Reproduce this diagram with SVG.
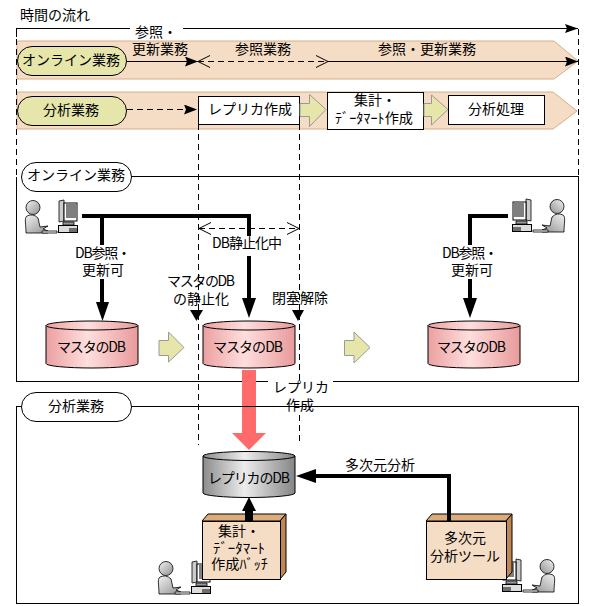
<svg xmlns="http://www.w3.org/2000/svg" xmlns:xlink="http://www.w3.org/1999/xlink" width="594" height="606" viewBox="0 0 594 606">
<style>
text{font-family:"Noto Sans CJK JP","Noto Sans CJK SC",sans-serif;font-size:14px;fill:#000}
.band{fill:#F5DCC4;stroke:#D8AE84;stroke-width:1}
.pill{fill:#E6E6AA;stroke:#000;stroke-width:1}
.wpill{fill:#fff;stroke:#000;stroke-width:1}
.box{fill:#fff;stroke:#000;stroke-width:1;shape-rendering:crispEdges}
.garrow{fill:#E6E6AA;stroke:#999;stroke-width:1}
.panel{fill:none;stroke:#000;stroke-width:1;shape-rendering:crispEdges}
.thin{fill:none;stroke:#000;stroke-width:1;shape-rendering:crispEdges}
.dash{fill:none;stroke:#000;stroke-width:1;stroke-dasharray:6 4;shape-rendering:crispEdges}
.thick{fill:none;stroke:#000;stroke-width:4;shape-rendering:crispEdges}
.cylline{fill:none;stroke:#000;stroke-width:1}
</style>
<defs>
<linearGradient id="pinkG" x1="0" x2="1" y1="0" y2="0"><stop offset="0" stop-color="#EBA0A0"/><stop offset="0.45" stop-color="#FFDEDE"/><stop offset="1" stop-color="#E89A9A"/></linearGradient>
<linearGradient id="grayG" x1="0" x2="1" y1="0" y2="0"><stop offset="0" stop-color="#8C8C8C"/><stop offset="0.45" stop-color="#EDEDED"/><stop offset="1" stop-color="#858585"/></linearGradient>
<linearGradient id="persG" x1="0" x2="1" y1="0" y2="1"><stop offset="0" stop-color="#F2F2F2"/><stop offset="1" stop-color="#909090"/></linearGradient>
<marker id="fa" markerUnits="userSpaceOnUse" markerWidth="14" markerHeight="10" refX="13" refY="5" orient="auto"><path d="M0 0L13 5L0 10L2 5Z" fill="#000"/></marker>
<marker id="oa" markerUnits="userSpaceOnUse" markerWidth="14" markerHeight="14" refX="12" refY="7" orient="auto"><path d="M0 1L12 7L0 13" fill="none" stroke="#000"/></marker>
<marker id="oas" markerUnits="userSpaceOnUse" markerWidth="14" markerHeight="14" refX="2" refY="7" orient="auto"><path d="M14 1L2 7L14 13" fill="none" stroke="#000"/></marker>
<g id="cyl">
<path d="M0 4.500A46 4.500 0 0 1 92 4.500V42.500A46 4.500 0 0 1 0 42.500Z" fill="url(#pinkG)" stroke="#000"/>
<path d="M0 4.500A46 4.500 0 0 0 92 4.500" class="cylline"/>
</g>
<g id="user">
<path d="M27 216C24 218 26 224 26 233H48V231L43 229L48 226L40 227L38 218Q33 213 27 216Z" fill="url(#persG)" stroke="#000" stroke-width="0.8"/>
<circle cx="33" cy="207.500" r="7" fill="url(#persG)" stroke="#000" stroke-width="0.8"/>
<path d="M42 231H57V233H42Z" fill="#fff" stroke="#000" stroke-width="0.8"/>
<path d="M59 201L64 200V221L59 222Z" fill="#ccc" stroke="#000" stroke-width="0.8"/>
<rect x="64" y="203" width="13" height="18" fill="#fff" stroke="#000" stroke-width="1"/>
<path d="M66 205H76M66 207H76M66 209H76M66 211H76M66 213H76M66 215H76M66 217H76" stroke="#000" stroke-width="1"/>
<path d="M63 222H74V225H63Z" fill="#999" stroke="#000" stroke-width="0.8"/>
<rect x="58.500" y="225.500" width="19" height="7" fill="#ddd" stroke="#000"/>
<path d="M70 228V232M72 228V232M74 228V232M76 228V232" stroke="#000"/>
</g>
</defs>

<g id="band-online"><path class="band" d="M17 41H554L578 61L554 79H17Z"/></g>
<g id="band-analysis"><path class="band" d="M17 92H553L577 111L553 129H17Z"/></g>

<g id="connectors">
<path class="thin" d="M16.500 37V28.500H129.500M183 28.500H577.500" />
<path d="M565 24L578 28.500L565 33L567 28.500Z" fill="#000"/>
<path class="dash" d="M16.500 39V177"/>
<path class="dash" d="M578.500 29V177"/>
<path class="dash" d="M198.500 124V445"/>
<path class="dash" d="M299.500 124V381"/>
<path class="dash" d="M299.500 415V445"/>
<path class="thin" d="M127 61.500H198" marker-end="url(#fa)"/>
<path class="dash" d="M198 61.500H328" marker-start="url(#oas)" marker-end="url(#oa)"/>
<path class="thin" d="M328 61.500H578" marker-end="url(#fa)"/>
<path class="dash" d="M127 109.500H197" marker-end="url(#fa)"/>
<path class="dash" d="M199 228.500H299" marker-start="url(#oas)" marker-end="url(#oa)"/>
<path class="thick" d="M82 216H249V236M249 256V300"/>
<path class="thick" d="M102 216V245M102 279V303"/>
<path class="thick" d="M508 216H470V245M470 279V300"/>
<path d="M96 302H109L102.500 321Z" fill="#000"/>
<path d="M242 298H256L249 318Z" fill="#000"/>
<path d="M463 298H477L470 318Z" fill="#000"/>
<path d="M190 310H203L196.500 321Z" fill="#000"/>
<path d="M292 310H304L298 321Z" fill="#000"/>
<path class="thick" d="M449 521V476H314"/>
<path d="M296 476L316 469V483Z" fill="#000"/>
<path d="M249 497L256 511H253V521H245V511H242Z" fill="#000"/>
<rect x="242" y="370" width="14" height="64" fill="#FF6B6B"/>
<path d="M232 433H266L249 450Z" fill="#FF6B6B"/>
</g>

<g id="panels">
<path class="panel" d="M131 176.500H578.500V381.500H333M268 381.500H256M242 381.500H16.500V177"/>
<path class="panel" d="M131 406.500H578.500V603.500H16.500V406.500H21M242 406.500H131M256 406.500H268M333 406.500H340"/>
</g>

<g id="time-label"><text x="20" y="20">時間の流れ</text></g>
<g id="label-upd1"><text x="135" y="37">参照・</text><text x="132" y="54">更新業務</text></g>
<g id="label-ref"><text x="235" y="54">参照業務</text></g>
<g id="label-upd2"><text x="378" y="54">参照・更新業務</text></g>

<g id="pill-online"><rect class="pill" x="17.500" y="46.500" width="109" height="29" rx="14.500"/><text x="22" y="65">オンライン業務</text></g>
<g id="pill-analysis"><rect class="pill" x="17.500" y="96.500" width="109" height="29" rx="14.500"/><text x="43" y="115">分析業務</text></g>

<g id="box-replica"><rect class="box" x="198.500" y="96.500" width="101" height="28"/><text x="208" y="114">レプリカ作成</text></g>
<g id="arrow-g1"><path class="garrow" d="M300 103.500H309.500V94.500L326 109.500L309.500 126.500V116.500H300Z"/></g>
<g id="box-mart"><rect class="box" x="327.500" y="92.500" width="96" height="37"/><text x="354" y="105">集計・</text><text x="335" y="123" textLength="78" lengthAdjust="spacingAndGlyphs">ﾃﾞｰﾀﾏｰﾄ作成</text></g>
<g id="arrow-g2"><path class="garrow" d="M424 103.500H431.500V95L448 109.500L431.500 125V116.500H424Z"/></g>
<g id="box-proc"><rect class="box" x="448.500" y="95.500" width="96" height="29"/><text x="468" y="114">分析処理</text></g>

<g id="pill-online2"><rect class="wpill" x="21.500" y="162.500" width="110" height="29" rx="14.500"/><text x="27" y="180">オンライン業務</text></g>
<g id="pill-analysis2"><rect class="wpill" x="21.500" y="392.500" width="110" height="29" rx="14.500"/><text x="48" y="411">分析業務</text></g>

<g id="user1"><use href="#user"/></g>
<g id="user2"><use href="#user" transform="translate(590,-1) scale(-1,1)"/></g>
<g id="user3"><use href="#user" transform="translate(133,361)"/></g>
<g id="user4"><use href="#user" transform="translate(580,359) scale(-1,1)"/></g>

<g id="db1"><use href="#cyl" x="46" y="321"/><text x="57" y="352" textLength="69">マスタのDB</text></g>
<g id="db2"><use href="#cyl" x="203" y="321"/><text x="213" y="352" textLength="70">マスタのDB</text></g>
<g id="db3"><use href="#cyl" x="428" y="321"/><text x="437" y="352" textLength="69">マスタのDB</text></g>
<g id="db-replica">
<path d="M203 456A46 4.500 0 0 1 295 456V493A46 4.500 0 0 1 203 493Z" fill="url(#grayG)" stroke="#000"/>
<path d="M203 456A46 4.500 0 0 0 295 456" class="cylline"/>
<text x="208" y="483" textLength="82">レプリカのDB</text>
</g>

<g id="arrow-g3"><path class="garrow" d="M159 340.500H168.500V332L184 347.500L168.500 362V355.500H159Z"/></g>
<g id="arrow-g4"><path class="garrow" d="M344.500 340.500H354V332L370 347.500L354 363V355.500H344.500Z"/></g>

<g id="box-batch">
<path d="M202 521L208 514H286L280 521Z" fill="#DCAC7C" stroke="#000"/>
<path d="M280 521L286 514V572L280 579Z" fill="#C08850" stroke="#000"/>
<rect x="202.500" y="521.500" width="78" height="58" fill="#F5DCC4" stroke="#000" shape-rendering="crispEdges"/>
<text x="218" y="536">集計・</text>
<text x="213" y="553" textLength="52" lengthAdjust="spacingAndGlyphs">ﾃﾞｰﾀﾏｰﾄ</text>
<text x="211" y="569" textLength="57" lengthAdjust="spacingAndGlyphs">作成ﾊﾞｯﾁ</text>
</g>
<g id="box-olap">
<path d="M426 521L432 514H512L506 521Z" fill="#DCAC7C" stroke="#000"/>
<path d="M506 521L512 514V572L506 579Z" fill="#C08850" stroke="#000"/>
<rect x="426.500" y="521.500" width="80" height="58" fill="#F5DCC4" stroke="#000" shape-rendering="crispEdges"/>
<text x="444" y="543">多次元</text>
<text x="430" y="561">分析ツール</text>
</g>
<path class="thick" d="M449 514V521"/>
<path d="M245 514H253V521H245Z" fill="#000"/>

<g id="labels">
<text x="75" y="258" textLength="56">DB参照・</text>
<text x="82" y="275">更新可</text>
<text x="212" y="248" textLength="70">DB静止化中</text>
<text x="167" y="286" textLength="68">マスタのDB</text>
<text x="173" y="304">の静止化</text>
<text x="272" y="303">閉塞解除</text>
<text x="442" y="258" textLength="56">DB参照・</text>
<text x="451" y="275">更新可</text>
<text x="273" y="392">レプリカ</text>
<text x="286" y="410">作成</text>
<text x="345" y="470">多次元分析</text>
</g>
</svg>
